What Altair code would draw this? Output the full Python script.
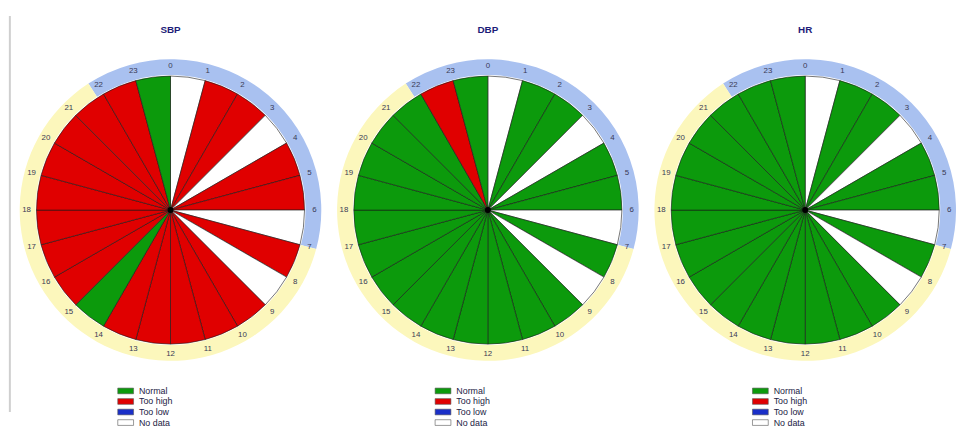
import math
import altair as alt
import pandas as pd

# ---- data -------------------------------------------------------------
hours = list(range(24))
panel_titles = ["SBP", "DBP", "HR"]

sbp_status = ["No data", "Too high", "Too high", "No data", "Too high", "Too high",
              "No data", "Too high", "No data", "Too high", "Too high", "Too high",
              "Too high", "Too high", "Normal", "Too high", "Too high", "Too high",
              "Too high", "Too high", "Too high", "Too high", "Too high", "Normal"]
dbp_status = ["No data", "Normal", "Normal", "No data", "Normal", "Normal",
              "No data", "Normal", "No data", "Normal", "Normal", "Normal",
              "Normal", "Normal", "Normal", "Normal", "Normal", "Normal",
              "Normal", "Normal", "Normal", "Normal", "Too high", "Normal"]
hr_status = ["No data", "Normal", "Normal", "No data", "Normal", "Normal",
             "No data", "Normal", "No data", "Normal", "Normal", "Normal",
             "Normal", "Normal", "Normal", "Normal", "Normal", "Normal",
             "Normal", "Normal", "Normal", "Normal", "Normal", "Normal"]

categories = ["Normal", "Too high", "Too low", "No data"]
category_colors = ["#0c9a0c", "#e00000", "#1a2fc8", "#ffffff"]

ring_names = ["Night", "Day"]
ring_start_hour = [21.8, 7.0]
ring_end_hour = [31.0, 21.8]
ring_colors = ["#a9c1f0", "#fcf7bc"]

# ---- layout constants --------------------------------------------------
W, H = 300, 420
PIE_R = 136
RING_IN, RING_OUT = 137, 153
LABEL_R = 146


def rad(h):
    return h * math.pi / 12


def panel(title, statuses, first=False):
    wedges = pd.DataFrame({"hour": hours, "status": statuses})
    wedges["t0"] = [rad(h) for h in hours]
    wedges["t1"] = [rad(h + 1) for h in hours]

    ring = pd.DataFrame({
        "part": ring_names,
        "t0": [rad(h) for h in ring_start_hour],
        "t1": [rad(h) for h in ring_end_hour],
    })
    labels = pd.DataFrame({"t": [rad(h) for h in hours],
                           "label": [str(h) for h in hours]})
    tdf = pd.DataFrame({"title": [title]})
    one = pd.DataFrame({"a": [0]})

    ring_layer = alt.Chart(ring).mark_arc(radius=RING_OUT, radius2=RING_IN).encode(
        theta=alt.Theta("t0:Q", scale=None, stack=None),
        theta2="t1:Q",
        fill=alt.Fill("part:N", scale=alt.Scale(domain=ring_names, range=ring_colors),
                      legend=None),
    )
    label_layer = alt.Chart(labels).mark_text(
        fontSize=8, font="Liberation Sans", color="#3a3a55"
    ).encode(
        theta=alt.Theta("t:Q", scale=None, stack=None),
        radius=alt.value(LABEL_R),
        text="label:N",
    )
    wedge_layer = alt.Chart(wedges).mark_arc(
        radius=PIE_R, stroke="#1a1a1a", strokeWidth=0.6
    ).encode(
        theta=alt.Theta("t0:Q", scale=None, stack=None),
        theta2="t1:Q",
        color=alt.Color(
            "status:N",
            scale=alt.Scale(domain=categories, range=category_colors),
            legend=alt.Legend(title=None, orient="none", legendX=100, legendY=389),
        ),
    )
    dot_layer = alt.Chart(one).mark_arc(
        radius=3, theta=0, theta2=6.2832
    ).encode(color=alt.value("#000000"))
    title_layer = alt.Chart(tdf).mark_text(
        fontSize=10, fontWeight="bold", font="Liberation Sans", color="#1c1c78"
    ).encode(text="title:N", x=alt.value(W / 2), y=alt.value(27))

    layers = [ring_layer, label_layer, wedge_layer, dot_layer, title_layer]
    if first:
        rule = alt.Chart(one).mark_rule(color="#cfcfcf", strokeWidth=2).encode(
            x=alt.value(-13), y=alt.value(13), y2=alt.value(415))
        layers.append(rule)
    return alt.layer(*layers).properties(width=W, height=H)


chart = alt.hconcat(
    panel(panel_titles[0], sbp_status, first=True),
    panel(panel_titles[1], dbp_status),
    panel(panel_titles[2], hr_status),
    spacing=16,
).resolve_scale(color="independent", fill="independent").resolve_legend(
    color="independent"
).properties(
    padding={"left": 9, "top": 0, "right": 0, "bottom": 0},
).configure_view(stroke=None).configure_legend(
    symbolType="M-2.5,-0.9H2.5V0.9H-2.5Z",
    symbolSize=41,
    labelFontSize=9,
    labelFont="Liberation Sans",
    labelColor="#222244",
    labelOffset=9,
    rowPadding=0.7,
    padding=0,
    symbolStrokeColor="#555555",
    symbolStrokeWidth=0.6,
)

chart.save("out.html", embed_options={"renderer": "svg", "actions": False})
